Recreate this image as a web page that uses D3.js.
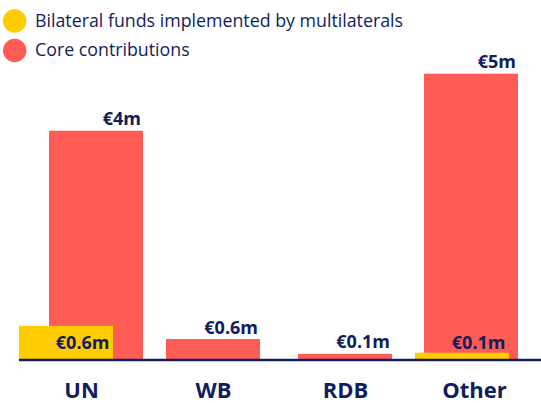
<!DOCTYPE html>
<html><head><meta charset="utf-8">
<script src="https://cdn.jsdelivr.net/npm/d3@7"></script>
<style>body{margin:0;background:#fff}svg{display:block}text{font-family:"Open Sans",sans-serif}</style>
</head><body><svg id="c" width="541" height="403"></svg>
<script>
const categories = ["UN", "WB", "RDB", "Other"];
const seriesNames = ["Bilateral funds implemented by multilaterals", "Core contributions"];
const bilateral = [0.58, 0, 0, 0.11];
const core = [4.0, 0.35, 0.09, 5.0];
const bilateralLabels = ["€0.6m", null, null, "€0.1m"];
const coreLabels = ["€4m", "€0.6m", "€0.1m", "€5m"];
const colors = ["#FFCC00", "#FF5C55"];
const navy = "#111d5e";

const svg = d3.select("#c");
const W = 541, base = 359;
const x = d3.scalePoint().domain(categories).range([81, 477]);
const y = d3.scaleLinear().domain([0, 5]).range([base, 73.7]);
const bw = 94, off = 15, rightEdge = 518;

function yellowX(i){ return x(categories[i]) - off - bw/2; }
function redX(i){
  const c = x(categories[i]) + (bilateral[i] > 0 ? off : 0);
  return Math.min(c - bw/2, rightEdge - bw);
}

// red bars (behind)
svg.append("g").selectAll("rect").data(core).join("rect")
  .attr("x", (d,i)=>redX(i)).attr("width", bw)
  .attr("y", d=>y(d)).attr("height", d=>base - y(d))
  .attr("fill", colors[1]);
// yellow bars (front)
svg.append("g").selectAll("rect").data(bilateral).join("rect")
  .attr("x", (d,i)=>yellowX(i)).attr("width", bw)
  .attr("y", d=>y(d)).attr("height", d=>base - y(d))
  .attr("fill", colors[0]).attr("display", d=>d>0?null:"none");

// baseline axis
const xAxis = d3.axisBottom(x).tickSize(0).tickPadding(0);
const ag = svg.append("g").attr("transform", `translate(0,${base+1})`).call(xAxis);
ag.select(".domain").remove();
ag.append("line").attr("x1",19).attr("x2",W).attr("stroke",navy).attr("stroke-width",2.6);
ag.selectAll(".tick text").attr("y", 38).attr("dy", 0)
  .attr("font-size", 22).attr("font-weight", 700).attr("fill", navy)
  .attr("dx", d => d === "Other" ? -3 : 0)
  .style("font-family", '"Open Sans",sans-serif');

// value labels
svg.append("g").selectAll("text").data(core).join("text")
  .attr("x", (d,i)=>redX(i) + bw - 2).attr("y", d=>y(d) - 5.5)
  .attr("text-anchor","end").attr("font-size",18).attr("font-weight",700).attr("fill",navy)
  .text((d,i)=>coreLabels[i]);
svg.append("g").selectAll("text").data(bilateral).join("text")
  .attr("x", (d,i)=>yellowX(i) + bw - 3.5).attr("y", base - 10)
  .attr("text-anchor","end").attr("font-size",18).attr("font-weight",700).attr("fill",navy)
  .attr("display", d=>d>0?null:"none")
  .text((d,i)=>bilateralLabels[i]);

// legend
const lg = svg.append("g").selectAll("g").data(seriesNames).join("g")
  .attr("transform",(d,i)=>`translate(0,${21 + i*29.5})`);
lg.append("circle").attr("cx",14.7).attr("cy",0).attr("r",11.7).attr("fill",(d,i)=>colors[i]);
lg.append("text").attr("x",35).attr("y",5.5).attr("font-size",17.8).attr("fill",navy).text(d=>d);
</script></body></html>
